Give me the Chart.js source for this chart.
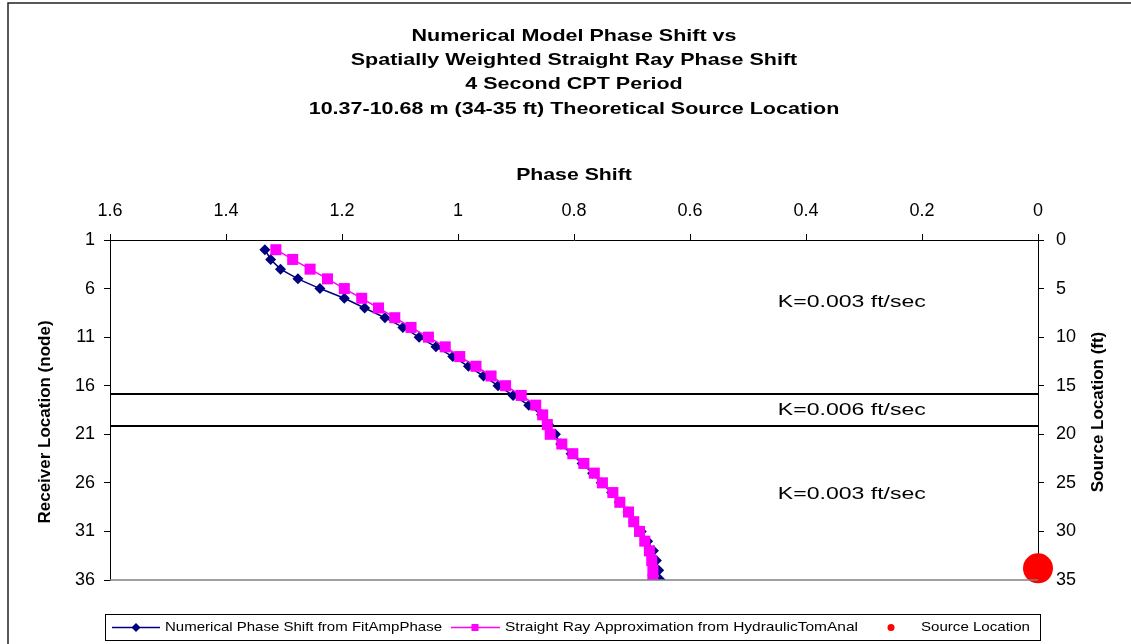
<!DOCTYPE html>
<html>
<head>
<meta charset="utf-8">
<script src="https://cdn.jsdelivr.net/npm/chart.js@4.4.1/dist/chart.umd.min.js"></script>
<style>
  html, body { margin: 0; padding: 0; background: #fff; }
  #wrap { width: 1131px; height: 644px; }
</style>
</head>
<body>
<div id="wrap"><canvas id="chart" width="1131" height="644"></canvas></div>
<script>
// chart data
const titleLines = [
    'Numerical Model Phase Shift vs',
    'Spatially Weighted Straight Ray Phase Shift',
    '4 Second CPT Period',
    '10.37-10.68 m (34-35 ft) Theoretical Source Location'
];
const nodes = [2, 3, 4, 5, 6, 7, 8, 9, 10, 11, 12, 13, 14, 15, 16, 17, 18, 19,
    20, 21, 22, 23, 24, 25, 26, 27, 28, 29, 30, 31, 32, 33, 34, 35, 36];
const numericalPhase = [1.333, 1.323, 1.306, 1.276, 1.238, 1.196, 1.161, 1.126, 1.095,
    1.067, 1.038, 1.009, 0.982, 0.956, 0.931, 0.905, 0.878, 0.856, 0.844, 0.832, 0.823,
    0.805, 0.786, 0.768, 0.753, 0.735, 0.722, 0.707, 0.697, 0.684, 0.673, 0.663, 0.658,
    0.654, 0.651];
const straightRayPhase = [1.314, 1.285, 1.255, 1.225, 1.196, 1.166, 1.137, 1.109, 1.081,
    1.051, 1.022, 0.997, 0.969, 0.943, 0.918, 0.891, 0.866, 0.854, 0.846, 0.841, 0.821,
    0.802, 0.783, 0.765, 0.751, 0.733, 0.721, 0.706, 0.697, 0.687, 0.678, 0.670, 0.666,
    0.664, 0.664];
const sourcePhase = [0];
const sourceFt = [33.8];
const boundaryNodes = [16.85, 20.15];
const kLabels = ['K=0.003 ft/sec', 'K=0.006 ft/sec', 'K=0.003 ft/sec'];
const kLabelNodes = [7.4, 18.5, 27.2];
const kLabelPhase = 0.321;
const phaseTicks = [0, 0.2, 0.4, 0.6, 0.8, 1, 1.2, 1.4, 1.6];
const nodeTicks = [1, 6, 11, 16, 21, 26, 31, 36];
const ftTicks = [0, 5, 10, 15, 20, 25, 30, 35];

const FONT = 'Arial, "Liberation Sans", sans-serif';
Chart.defaults.font.family = FONT;
Chart.defaults.color = '#000';

const navy = '#000080';
const pink = '#FF00FF';
const red = '#FF0000';
// the source picture has its text drawn a little wide
const WIDE = 1.265;

function setTicks(list) {
    return scale => { scale.ticks = list.map(v => ({ value: v })); };
}

function stretchText(ctx, text, x, y, width) {
    const w = ctx.measureText(text).width;
    ctx.save();
    ctx.translate(x, y);
    ctx.scale(width / w, 1);
    ctx.fillText(text, 0, 0);
    ctx.restore();
}

function upText(ctx, text, x, y) {
    ctx.save();
    ctx.translate(x, y);
    ctx.rotate(-Math.PI / 2);
    ctx.fillText(text, 0, 0);
    ctx.restore();
}

const extras = {
    id: 'extras',
    beforeDraw(chart) {
        const ctx = chart.ctx;
        ctx.save();
        ctx.strokeStyle = '#222';
        ctx.lineWidth = 1.5;
        ctx.beginPath();
        ctx.moveTo(8, 644);
        ctx.lineTo(8, 3);
        ctx.lineTo(1131, 3);
        ctx.stroke();
        ctx.restore();
    },
    afterDraw(chart) {
        const ctx = chart.ctx;
        const xs = chart.scales.x, ys = chart.scales.y;
        const area = chart.chartArea;
        const cx = (area.left + area.right) / 2;
        ctx.save();
        // bottom edge of plot
        ctx.strokeStyle = '#808080';
        ctx.lineWidth = 1.5;
        ctx.beginPath();
        ctx.moveTo(area.left, area.bottom);
        ctx.lineTo(area.right, area.bottom);
        ctx.stroke();

        ctx.fillStyle = '#000';
        ctx.textAlign = 'center';
        ctx.textBaseline = 'middle';

        // title
        ctx.font = 'bold 17px ' + FONT;
        titleLines.forEach((t, i) => {
            stretchText(ctx, t, cx, 36 + i * 24.3, ctx.measureText(t).width * WIDE);
        });
        // x axis title
        stretchText(ctx, 'Phase Shift', cx, 175, ctx.measureText('Phase Shift').width * 1.25);

        // K labels
        ctx.font = '17px ' + FONT;
        kLabels.forEach((t, i) => {
            stretchText(ctx, t, xs.getPixelForValue(kLabelPhase), ys.getPixelForValue(kLabelNodes[i]), 148);
        });

        // y axis titles, reading upward
        ctx.font = 'bold 17px ' + FONT;
        upText(ctx, 'Receiver Location (node)', 45, 422);
        upText(ctx, 'Source Location (ft)', 1098, 412);
        ctx.restore();

        // legend
        ctx.save();
        ctx.strokeStyle = '#000';
        ctx.lineWidth = 1;
        ctx.strokeRect(105.5, 614.5, 935, 26);
        const ly = 627.5;
        ctx.font = '13px ' + FONT;
        ctx.textBaseline = 'middle';
        ctx.textAlign = 'left';
        const ds = chart.data.datasets;

        ctx.strokeStyle = navy; ctx.fillStyle = navy; ctx.lineWidth = 1.5;
        ctx.beginPath(); ctx.moveTo(112, ly); ctx.lineTo(160, ly); ctx.stroke();
        ctx.beginPath(); ctx.moveTo(136, ly - 4.5); ctx.lineTo(140.5, ly); ctx.lineTo(136, ly + 4.5); ctx.lineTo(131.5, ly); ctx.closePath(); ctx.fill();
        ctx.fillStyle = '#000';
        stretchText(ctx, ds[0].label, 165, ly, 277);

        ctx.strokeStyle = pink; ctx.fillStyle = pink;
        ctx.beginPath(); ctx.moveTo(451, ly); ctx.lineTo(500, ly); ctx.stroke();
        ctx.fillRect(471.5, ly - 3.5, 7, 7);
        ctx.fillStyle = '#000';
        stretchText(ctx, ds[1].label, 505, ly, 353);

        ctx.fillStyle = red;
        ctx.beginPath(); ctx.arc(891, ly, 3.5, 0, Math.PI * 2); ctx.fill();
        ctx.fillStyle = '#000';
        stretchText(ctx, ds[2].label, 921, ly, 109);
        ctx.restore();
    }
};

const xMin = phaseTicks[0], xMax = phaseTicks[phaseTicks.length - 1];

new Chart(document.getElementById('chart'), {
    type: 'scatter',
    data: {
        datasets: [
            {
                label: 'Numerical Phase Shift from FitAmpPhase',
                data: nodes.map((n, i) => ({ x: numericalPhase[i], y: n })),
                showLine: true,
                borderColor: navy,
                backgroundColor: navy,
                borderWidth: 1.5,
                pointStyle: 'rectRot',
                pointRadius: 5.5,
                pointBorderWidth: 0,
                order: 2
            },
            {
                label: 'Straight Ray Approximation from HydraulicTomAnal',
                data: nodes.map((n, i) => ({ x: straightRayPhase[i], y: n })),
                showLine: true,
                borderColor: pink,
                backgroundColor: pink,
                borderWidth: 1.5,
                pointStyle: 'rect',
                pointRadius: 7.8,
                pointBorderWidth: 0,
                order: 1
            },
            {
                label: 'Source Location',
                data: sourceFt.map((f, i) => ({ x: sourcePhase[i], y: f })),
                yAxisID: 'y2',
                backgroundColor: red,
                borderColor: red,
                pointRadius: 15,
                pointBorderWidth: 0,
                clip: false,
                order: 0
            },
            ...boundaryNodes.map(b => ({
                label: 'boundary',
                data: [{ x: xMax, y: b }, { x: xMin, y: b }],
                showLine: true,
                borderColor: '#000',
                borderWidth: 2,
                pointRadius: 0,
                order: 3
            }))
        ]
    },
    options: {
        responsive: false,
        animation: false,
        devicePixelRatio: 1,
        layout: { padding: { left: 8, right: 0, top: 120, bottom: 64 } },
        plugins: {
            legend: { display: false },
            tooltip: { enabled: false },
            title: { display: false }
        },
        scales: {
            x: {
                type: 'linear',
                position: 'top',
                reverse: true,
                min: xMin,
                max: xMax,
                afterBuildTicks: setTicks(phaseTicks),
                afterFit: s => { s.height = 120; },
                ticks: { font: { size: 18 }, padding: 12, color: '#000', callback: v => String(v) },
                grid: { drawOnChartArea: false, tickLength: 6, color: '#000' },
                border: { color: '#000' }
            },
            y: {
                type: 'linear',
                position: 'left',
                reverse: true,
                min: 1,
                max: 36,
                afterBuildTicks: setTicks(nodeTicks),
                afterFit: s => { s.width = 102; },
                ticks: { font: { size: 18 }, padding: 9, color: '#000', callback: v => String(v) },
                grid: { drawOnChartArea: false, tickLength: 6, color: '#000' },
                border: { color: '#000' }
            },
            y2: {
                type: 'linear',
                position: 'right',
                reverse: true,
                min: 0,
                max: 35,
                afterBuildTicks: setTicks(ftTicks),
                afterFit: s => { s.width = 93; },
                ticks: { font: { size: 18 }, padding: 12, color: '#000', callback: v => String(v) },
                grid: { drawOnChartArea: false, tickLength: 6, color: '#000' },
                border: { color: '#000' }
            }
        }
    },
    plugins: [extras]
});
</script>
</body>
</html>
